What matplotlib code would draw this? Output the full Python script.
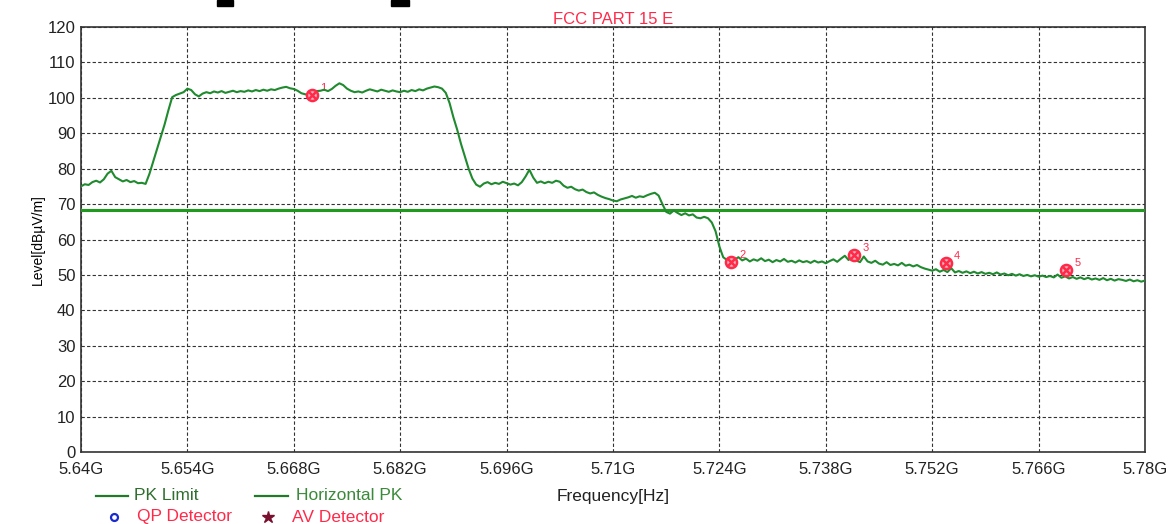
import numpy as np
import matplotlib.pyplot as plt
from matplotlib.lines import Line2D
from matplotlib.patches import Rectangle

plt.rcParams['font.family'] = ['Liberation Sans', 'DejaVu Sans']

# trace sampled every 0.5 MHz from 5640 MHz to 5780 MHz
f_start = 5640.0
f_step = 0.5
level = [
    75.0, 75.6, 75.4, 76.2, 76.6, 76.1, 77.0, 78.6, 79.4, 77.6,
    77.0, 76.4, 76.8, 76.2, 76.5, 75.9, 76.0, 75.7, 78.5, 82.0,
    85.5, 89.0, 92.5, 96.5, 100.2, 100.8, 101.2, 101.6, 102.6, 102.2,
    101.0, 100.4, 101.2, 101.6, 101.3, 101.8, 101.5, 101.9, 101.4, 101.7,
    102.0, 101.6, 101.9, 101.7, 102.1, 101.8, 102.2, 101.9, 102.3, 102.0,
    102.4, 102.2, 102.6, 102.9, 103.1, 102.7, 102.5, 102.0, 101.3, 101.0,
    100.9, 101.2, 101.9, 102.0, 102.3, 101.9, 102.5, 103.4, 104.1, 103.6,
    102.6, 102.0, 101.6, 101.8, 101.5, 102.0, 102.4, 102.1, 101.8, 102.3,
    102.0, 101.7, 102.1, 101.8, 101.6, 102.0, 101.7, 102.2, 101.9, 102.4,
    102.1, 102.6, 102.9, 103.2, 103.0, 102.6, 101.4, 98.5, 94.5, 91.0,
    87.0, 83.5, 80.0, 77.2, 75.5, 74.9, 75.8, 76.2, 75.6, 76.0,
    75.7, 76.3, 75.9, 75.5, 75.8, 75.3, 76.2, 77.8, 79.7, 77.5,
    76.0, 76.4, 75.9, 76.3, 76.0, 76.6, 76.3, 75.2, 74.6, 74.9,
    74.2, 73.8, 74.1, 73.4, 73.0, 73.3, 72.6, 72.1, 71.7, 71.4,
    71.0, 70.8, 71.3, 71.6, 71.9, 72.3, 71.8, 72.2, 72.0, 72.5,
    72.9, 73.2, 72.4, 70.0, 67.8, 67.3, 68.2, 67.5, 66.9, 67.4,
    66.8, 67.1, 66.2, 66.0, 66.4, 66.0, 64.8, 62.3, 58.0, 55.0,
    54.2, 54.8, 54.3, 55.0, 54.1, 54.6, 53.8, 54.4, 54.0, 54.7,
    53.9, 54.3, 53.6, 54.2, 53.8, 54.5, 53.7, 54.0, 53.5, 54.1,
    53.6, 53.9, 53.4, 54.0, 53.5, 53.8, 53.3, 53.9, 54.4, 53.7,
    54.6, 55.4, 54.2, 55.8, 54.1, 53.6, 55.2, 53.8, 53.4, 54.0,
    53.2, 52.9, 53.6, 52.8, 53.1, 52.7, 53.4, 52.6, 52.9, 52.4,
    52.8, 52.2, 51.8, 51.5, 51.2, 51.6, 50.9, 51.4, 50.8, 51.9,
    50.7, 51.1, 50.6, 51.0, 50.5, 50.9, 50.4, 50.8, 50.3, 50.6,
    50.2, 50.7, 50.1, 50.4, 49.9, 50.3, 49.8, 50.2, 49.7, 50.0,
    49.6, 49.9, 49.5, 49.8, 49.4, 49.7, 49.3, 50.1, 49.2, 49.6,
    49.0, 49.4, 48.9, 49.3, 48.8, 49.2, 48.7, 49.0, 48.6, 49.1,
    48.5, 48.9, 48.4, 48.8, 48.6, 48.3, 48.7, 48.2, 48.5, 48.1,
    48.4,
]
freq = f_start + f_step * np.arange(len(level))

pk_limit = 68.2

# marker points (MHz, dBuV/m)
mark_no = ['1', '2', '3', '4', '5']
mark_f = [5670.4, 5725.5, 5741.7, 5753.8, 5769.6]
mark_lv = [100.8, 53.6, 55.6, 53.4, 51.4]

xticks = [5640, 5654, 5668, 5682, 5696, 5710, 5724, 5738, 5752, 5766, 5780]
xlabels = ['5.64G', '5.654G', '5.668G', '5.682G', '5.696G', '5.71G',
           '5.724G', '5.738G', '5.752G', '5.766G', '5.78G']
yticks = list(range(0, 121, 10))

red = '#ff2a4a'
fig = plt.figure(figsize=(11.68, 5.24), dpi=100)
ax = fig.add_axes([81 / 1168, 1 - 452 / 524, 1064 / 1168, 425 / 524])

ax.axhline(pk_limit, color='#1f9a1f', lw=2.2, zorder=3)
ax.plot(freq, level, color='#1f8a2e', lw=1.5, zorder=4)

ax.plot(mark_f, mark_lv, ls='none', marker='o', ms=8, mfc='#ffb0b8',
        mec=red, mew=1.8, zorder=5)
ax.plot(mark_f, mark_lv, ls='none', marker='x', ms=6, mec=red, mew=1.8, zorder=6)
for n, fx, lv in zip(mark_no, mark_f, mark_lv):
    ax.annotate(n, (fx, lv), xytext=(6, 3), textcoords='offset points',
                color=red, fontsize=8)

ax.set_xlim(5640, 5780)
ax.set_ylim(0, 120)
ax.set_xticks(xticks)
ax.set_xticklabels(xlabels)
ax.set_yticks(yticks)
ax.tick_params(length=0, labelsize=12, colors='#222222')
ax.tick_params(axis='x', pad=7)
ax.tick_params(axis='y', pad=4)
ax.grid(True, color='#333333', ls=(0, (3, 2)), lw=0.8)
for s in ax.spines.values():
    s.set_linewidth(1.2)
    s.set_color('#333333')

ax.set_title('FCC PART 15 E', color=red, fontsize=12, pad=2)
ax.set_ylabel('Level[dB\u00b5V/m]', fontsize=10, labelpad=2)
fig.text(613 / 1168, 1 - 496 / 524, 'Frequency[Hz]', fontsize=12.5,
         ha='center', va='center', color='#222222')

# legend below the plot
y1 = 1 - 496 / 524
y2 = 1 - 517 / 524
fig.add_artist(Line2D([96 / 1168, 128 / 1168], [y1, y1], color='#1f7a2a', lw=1.6))
fig.text(134 / 1168, y1, 'PK Limit', fontsize=12.5, color='#2e6e2e', va='center')
fig.add_artist(Line2D([255 / 1168, 288 / 1168], [y1, y1], color='#1f7a2a', lw=1.6))
fig.text(296 / 1168, y1, 'Horizontal PK', fontsize=12.5, color='#3a8a3a', va='center')
fig.add_artist(Line2D([114 / 1168], [y2], marker='o', ms=5, mfc='none',
                      mec='#1a2acc', mew=1.6, ls='none'))
fig.text(137 / 1168, y2, 'QP Detector', fontsize=12.5, color=red, va='center')
fig.add_artist(Line2D([268 / 1168], [y2], marker='*', ms=9, color='#7a1030', ls='none'))
fig.text(292 / 1168, y2, 'AV Detector', fontsize=12.5, color=red, va='center')

# cut-off marks at the very top
fig.add_artist(Rectangle((217 / 1168, 1 - 6 / 524), 16 / 1168, 6 / 524,
                         transform=fig.transFigure, color='black'))
fig.add_artist(Rectangle((391 / 1168, 1 - 6 / 524), 18 / 1168, 6 / 524,
                         transform=fig.transFigure, color='black'))

fig.savefig('out.png', dpi=100)
